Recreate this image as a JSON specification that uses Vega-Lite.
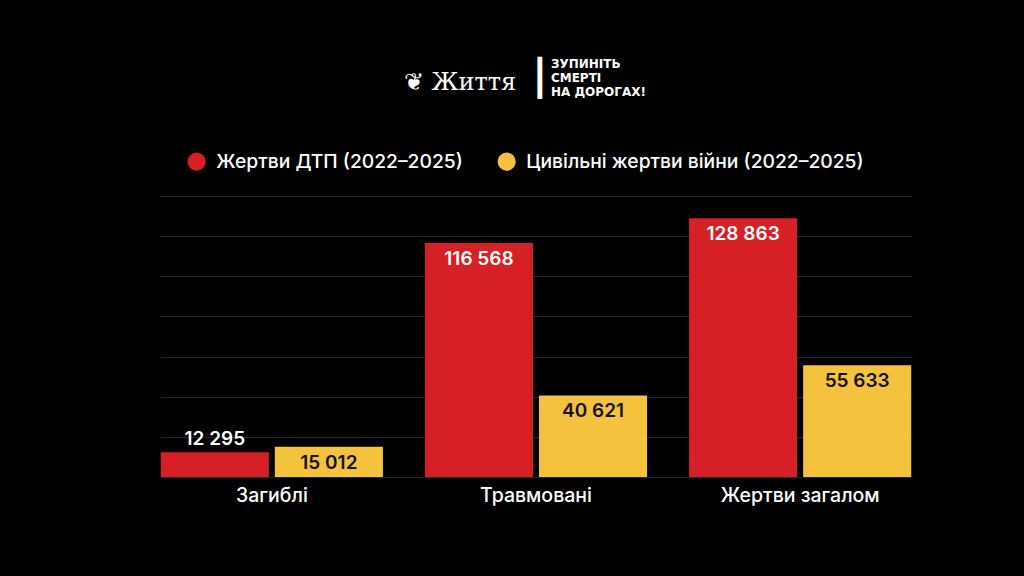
{
  "$schema": "https://vega.github.io/schema/vega-lite/v6.json",
  "width": 752,
  "height": 281,
  "autosize": {"type": "none"},
  "padding": {"left": 160, "top": 196, "right": 112, "bottom": 99},
  "background": "#000000",
  "title": {
    "text": "❦ Життя",
    "anchor": "middle",
    "frame": "group",
    "dx": -76,
    "dy": 38,
    "font": "DejaVu Serif",
    "fontSize": 24,
    "fontWeight": "normal",
    "color": "#ffffff",
    "offset": 0
  },
  "data": {
    "values": [
      {"category": "Загиблі", "series": "Жертви ДТП (2022–2025)", "value": 12295, "label": "12 295"},
      {"category": "Загиблі", "series": "Цивільні жертви війни (2022–2025)", "value": 15012, "label": "15 012"},
      {"category": "Травмовані", "series": "Жертви ДТП (2022–2025)", "value": 116568, "label": "116 568"},
      {"category": "Травмовані", "series": "Цивільні жертви війни (2022–2025)", "value": 40621, "label": "40 621"},
      {"category": "Жертви загалом", "series": "Жертви ДТП (2022–2025)", "value": 128863, "label": "128 863"},
      {"category": "Жертви загалом", "series": "Цивільні жертви війни (2022–2025)", "value": 55633, "label": "55 633"}
    ]
  },
  "encoding": {
    "x": {
      "field": "category",
      "type": "nominal",
      "sort": ["Загиблі", "Травмовані", "Жертви загалом"],
      "scale": {"paddingInner": 0.159, "paddingOuter": 0.003},
      "axis": {
        "title": null,
        "ticks": false,
        "domain": false,
        "labelAngle": 0,
        "labelPadding": 9,
        "labelFont": "Inter",
        "labelFontSize": 19.5,
        "labelFontWeight": 500,
        "labelColor": "#ffffff"
      }
    },
    "xOffset": {
      "field": "series",
      "type": "nominal",
      "sort": ["Жертви ДТП (2022–2025)", "Цивільні жертви війни (2022–2025)"],
      "scale": {"paddingInner": 0.0526, "paddingOuter": 0}
    },
    "y": {
      "field": "value",
      "type": "quantitative",
      "scale": {"domain": [0, 140000], "nice": false},
      "axis": {
        "values": [0, 20000, 40000, 60000, 80000, 100000, 120000, 140000],
        "grid": true,
        "gridColor": "#262626",
        "gridWidth": 1,
        "labels": false,
        "ticks": false,
        "domain": false,
        "title": ["▌  ЗУПИНІТЬ", "▌  СМЕРТІ", "▌  НА ДОРОГАХ!"],
        "titleAngle": 0,
        "titleAlign": "left",
        "titleBaseline": "top",
        "titleX": 377,
        "titleY": -138,
        "titleFont": "DejaVu Sans",
        "titleFontSize": 12,
        "titleFontWeight": "bold",
        "titleLineHeight": 14,
        "titleColor": "#ffffff"
      }
    }
  },
  "layer": [
    {
      "mark": {"type": "bar"},
      "encoding": {
        "color": {
          "field": "series",
          "type": "nominal",
          "sort": ["Жертви ДТП (2022–2025)", "Цивільні жертви війни (2022–2025)"],
          "scale": {
            "domain": ["Жертви ДТП (2022–2025)", "Цивільні жертви війни (2022–2025)"],
            "range": ["#D71F26", "#F5C23E"]
          },
          "legend": {
            "title": null,
            "orient": "none",
            "legendX": 27,
            "legendY": -44,
            "direction": "horizontal",
            "columns": 2,
            "columnPadding": 34,
            "symbolType": "circle",
            "symbolSize": 330,
            "symbolStrokeWidth": 0,
            "symbolOpacity": 1,
            "labelOffset": 10,
            "labelFont": "Inter",
            "labelFontSize": 19.3,
            "labelFontWeight": 500,
            "labelColor": "#ffffff",
            "labelLimit": 500
          }
        }
      }
    },
    {
      "transform": [{"filter": "datum.value > 14000"}],
      "mark": {
        "type": "text",
        "baseline": "top",
        "dy": 7,
        "font": "Inter",
        "fontSize": 19,
        "fontWeight": 600
      },
      "encoding": {
        "text": {"field": "label"},
        "color": {
          "condition": {"test": "datum.series === 'Цивільні жертви війни (2022–2025)'", "value": "#111111"},
          "value": "#ffffff"
        }
      }
    },
    {
      "transform": [{"filter": "datum.value <= 14000"}],
      "mark": {
        "type": "text",
        "baseline": "bottom",
        "dy": -3,
        "font": "Inter",
        "fontSize": 19,
        "fontWeight": 600,
        "color": "#ffffff"
      },
      "encoding": {
        "text": {"field": "label"}
      }
    }
  ],
  "config": {
    "view": {"stroke": null}
  }
}
